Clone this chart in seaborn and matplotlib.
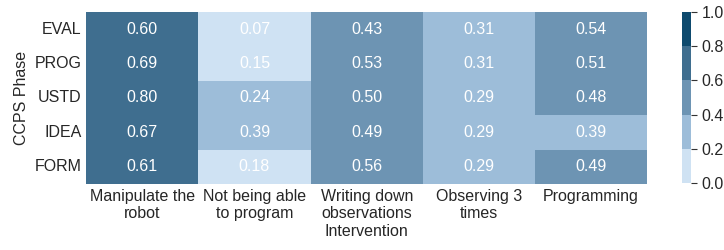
import matplotlib
matplotlib.use("Agg")
import matplotlib.pyplot as plt
import seaborn as sns
import pandas as pd
from matplotlib.colors import ListedColormap

# --- Data ---
phases = ["EVAL", "PROG", "USTD", "IDEA", "FORM"]
interventions = ["Manipulate the\nrobot", "Not being able\nto program",
                 "Writing down\nobservations", "Observing 3\ntimes", "Programming"]
manipulate = [0.601, 0.69, 0.799, 0.67, 0.61]
not_program = [0.07, 0.15, 0.24, 0.39, 0.18]
writing = [0.43, 0.53, 0.50, 0.49, 0.56]
observing = [0.31, 0.31, 0.29, 0.29, 0.29]
programming = [0.54, 0.51, 0.48, 0.39, 0.49]

df = pd.DataFrame({
    interventions[0]: manipulate,
    interventions[1]: not_program,
    interventions[2]: writing,
    interventions[3]: observing,
    interventions[4]: programming,
}, index=phases)

# --- Style ---
sns.set_theme(style="white")
plt.rcParams['font.family'] = ['Liberation Sans', 'DejaVu Sans']
plt.rcParams['font.size'] = 11

cmap = ListedColormap(["#cfe2f3", "#9dbdd9", "#6d94b3", "#3f6e8f", "#0e4a6e"])

fig = plt.figure(figsize=(7.24, 2.5), dpi=100)
ax = fig.add_axes([0.119, 0.264, 0.775, 0.688])
cax = fig.add_axes([0.942, 0.268, 0.013, 0.684])

sns.heatmap(df, ax=ax, cbar_ax=cax, cmap=cmap, vmin=0, vmax=1,
            annot=True, fmt=".2f", annot_kws={"color": "white", "fontsize": 11.5})

ax.set_xlabel("Intervention", fontsize=11.5, labelpad=2)
ax.set_ylabel("CCPS Phase", fontsize=11.5)
ax.tick_params(axis="x", labelsize=11.5, rotation=0, length=0)
ax.tick_params(axis="y", labelsize=11.5, rotation=0, length=0)

cbar = ax.collections[0].colorbar
cbar.set_ticks([0.0, 0.2, 0.4, 0.6, 0.8, 1.0])
cbar.ax.tick_params(labelsize=11.5, length=4, width=0.8, color="#333333")
cbar.outline.set_visible(False)

plt.savefig("out.png", dpi=100)
plt.close()
